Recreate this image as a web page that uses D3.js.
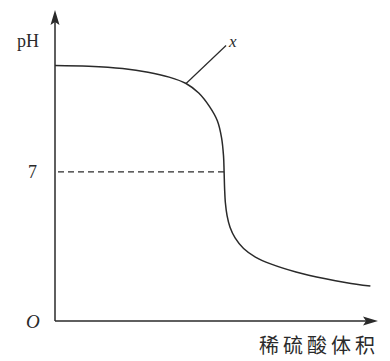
<!DOCTYPE html>
<html>
<head>
<meta charset="utf-8">
<script src="https://cdn.jsdelivr.net/npm/d3@7"></script>
<style>
  html, body { margin: 0; padding: 0; background: #fff; }
  svg { display: block; }
</style>
</head>
<body>
<svg id="chart" width="390" height="361"></svg>
<script>
// Titration curve: pH of a base solution as dilute sulfuric acid is added
const volume = [0, 4, 8, 11, 13.5, 15.5, 17, 18.3, 19.2, 19.7, 19.93, 20.0, 20.06, 20.15, 20.35, 20.7, 21.3, 22.3, 23.7, 25.5, 28.5, 32.0, 34.5, 37.3];
const pH     = [12.0, 11.96, 11.85, 11.68, 11.45, 11.15, 10.7, 10.05, 9.4, 8.6, 7.75, 7.0, 6.2, 5.55, 4.95, 4.4, 3.9, 3.4, 3.0, 2.68, 2.3, 1.98, 1.8, 1.64];
const neutralPH = 7;
const equivalenceVolume = 20.0;
const curveLabel = "x";
const labelAnchorVolume = 15.5;
const yAxisLabel = "pH";
const xAxisLabel = "稀硫酸体积";
const originLabel = "O";

const svg = d3.select("#chart");
const x0 = 55, y0 = 321;

const x = d3.scaleLinear().domain([0, 38.2]).range([x0, 378]);
const y = d3.scaleLinear().domain([0, 14.6]).range([y0, 10]);

const ink = "#2a2a2a";

// Axes with arrowheads
svg.append("line").attr("x1", x0).attr("y1", y0).attr("x2", x0).attr("y2", y(14.6) + 10)
  .attr("stroke", ink).attr("stroke-width", 1.5);
svg.append("line").attr("x1", x0).attr("y1", y0).attr("x2", x(38.2) - 10).attr("y2", y0)
  .attr("stroke", ink).attr("stroke-width", 1.5);
const yt = y(14.6), xt = x(38.2);
svg.append("path").attr("d", `M${x0},${yt} L${x0 - 4.5},${yt + 15} L${x0},${yt + 12} L${x0 + 4.5},${yt + 15} Z`).attr("fill", ink);
svg.append("path").attr("d", `M${xt},${y0} L${xt - 15},${y0 - 4.5} L${xt - 12},${y0} L${xt - 15},${y0 + 4.5} Z`).attr("fill", ink);

// Dashed guide at pH 7 up to the equivalence point
svg.append("line")
  .attr("x1", x0 + 3).attr("x2", x(equivalenceVolume))
  .attr("y1", y(neutralPH)).attr("y2", y(neutralPH))
  .attr("stroke", ink).attr("stroke-width", 1.3).attr("stroke-dasharray", "6,4");

// Curve
const pts = volume.map((v, i) => [v, pH[i]]);
const line = d3.line().x(d => x(d[0])).y(d => y(d[1])).curve(d3.curveCatmullRom.alpha(0.5));
svg.append("path").attr("d", line(pts)).attr("fill", "none")
  .attr("stroke", ink).attr("stroke-width", 1.5);

// Leader line and curve label
const ai = volume.indexOf(labelAnchorVolume);
const ax = x(volume[ai]), ay = y(pH[ai]);
svg.append("line").attr("x1", ax).attr("y1", ay).attr("x2", ax + 40).attr("y2", ay - 38)
  .attr("stroke", ink).attr("stroke-width", 1.2);
svg.append("text").attr("x", ax + 43).attr("y", ay - 36)
  .attr("font-family", "Liberation Serif, DejaVu Serif, serif").attr("font-style", "italic")
  .attr("font-size", 17).attr("fill", ink).text(curveLabel);

// Axis labels
svg.append("text").attr("x", 17).attr("y", 47)
  .attr("font-family", "Liberation Serif, DejaVu Serif, serif")
  .attr("font-size", 18).attr("fill", ink).text(yAxisLabel);
svg.append("text").attr("x", 28).attr("y", y(neutralPH) + 6)
  .attr("font-family", "Liberation Serif, DejaVu Serif, serif")
  .attr("font-size", 18).attr("fill", ink).text(neutralPH);
svg.append("text").attr("x", 26).attr("y", y0 + 7)
  .attr("font-family", "Liberation Serif, DejaVu Serif, serif").attr("font-style", "italic")
  .attr("font-size", 19).attr("fill", ink).text(originLabel);
svg.append("text").attr("x", 379).attr("y", 353).attr("text-anchor", "end")
  .attr("font-family", "Noto Sans CJK SC, sans-serif")
  .attr("font-size", 20).attr("letter-spacing", 4).attr("fill", ink).text(xAxisLabel);
</script>
</body>
</html>
